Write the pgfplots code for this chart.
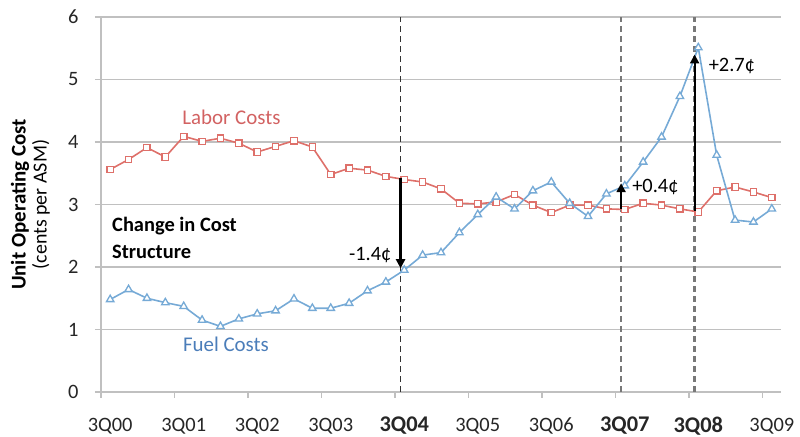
\documentclass[border=0pt]{standalone}
\usepackage{fontspec}
\setmainfont{Carlito}
\usepackage{pgfplots}
\pgfplotsset{compat=1.18}
\usetikzlibrary{arrows.meta}

\definecolor{laborc}{RGB}{222,112,106}
\definecolor{fuelc}{RGB}{118,170,214}
\definecolor{labort}{RGB}{210,98,98}
\definecolor{fuelt}{RGB}{75,125,185}
\definecolor{gridc}{RGB}{192,192,192}
\definecolor{dashc}{RGB}{120,120,120}

\newcommand{\fs}[1]{\fontsize{#1}{#1}\selectfont}

\begin{document}
\begin{tikzpicture}
\begin{axis}[
  name=ax,
  scale only axis, width=680bp, height=375bp,
  xmin=-0.5, xmax=36.5, ymin=0, ymax=6,
  ytick={0,...,6},
  xtick={-0.5,3.5,...,35.5},
  xticklabels={3Q00,3Q01,3Q02,3Q03,{\bfseries\fs{22.5}3Q04},3Q05,3Q06,{\bfseries\fs{22.5}3Q07},{\bfseries\fs{22.5}3Q08},3Q09},
  xticklabel style={xshift=9.19bp, yshift=-28bp, anchor=center},
  yticklabel style={xshift=-13bp, anchor=east},
  tick label style={font=\fs{20.5}, text=black!85},
  /pgf/number format/assume math mode=true,
  axis x line*=bottom, axis y line*=left,
  axis line style={gridc, line width=1.5bp, -},
  tick align=outside, major tick length=6bp,
  tick style={gridc, line width=1.5bp},
  ymajorgrids, major grid style={gridc, line width=1.5bp},
  clip mode=individual,
]
% vertical dashed reference lines
\draw[black!80, line width=1.3bp, dash pattern=on 6bp off 4bp] (axis cs:15.8,0) -- (axis cs:15.8,6);
\draw[dashc, line width=2.5bp, dash pattern=on 6bp off 4bp] (axis cs:27.8,0) -- (axis cs:27.8,6);
\draw[dashc, line width=2.5bp, dash pattern=on 6bp off 4bp] (axis cs:31.8,0) -- (axis cs:31.8,6);

% Labor costs
\addplot[laborc, line width=1.6bp, mark=square*, mark size=3.2bp, mark options={fill=white, line width=1.3bp}] coordinates {
(0,3.56) (1,3.72) (2,3.91) (3,3.76) (4,4.09) (5,4.01) (6,4.06) (7,3.98) (8,3.84) (9,3.93)
(10,4.02) (11,3.92) (12,3.48) (13,3.58) (14,3.55) (15,3.45) (16,3.40) (17,3.36) (18,3.25) (19,3.02)
(20,3.01) (21,3.04) (22,3.16) (23,2.99) (24,2.87) (25,2.99) (26,2.99) (27,2.93) (28,2.92) (29,3.02)
(30,2.99) (31,2.93) (32,2.88) (33,3.22) (34,3.28) (35,3.20) (36,3.11)};

% Fuel costs
\addplot[fuelc, line width=1.6bp, mark=triangle*, mark size=4.3bp, mark options={fill=white, line width=1.3bp}] coordinates {
(0,1.48) (1,1.64) (2,1.50) (3,1.43) (4,1.37) (5,1.15) (6,1.05) (7,1.17) (8,1.25) (9,1.30)
(10,1.49) (11,1.34) (12,1.34) (13,1.42) (14,1.62) (15,1.76) (16,1.95) (17,2.19) (18,2.23) (19,2.55)
(20,2.84) (21,3.12) (22,2.93) (23,3.22) (24,3.36) (25,3.02) (26,2.81) (27,3.17) (28,3.30) (29,3.68)
(30,4.08) (31,4.73) (32,5.51) (33,3.79) (34,2.75) (35,2.72) (36,2.93)};

% change arrows
\draw[black, line width=2.2bp, -{Triangle[width=9bp,length=9bp]}] (axis cs:15.8,3.42) -- (axis cs:15.8,1.98);
\draw[black, line width=2.2bp, -{Triangle[width=9bp,length=9bp]}] (axis cs:27.8,2.92) -- (axis cs:27.8,3.34);
\draw[black, line width=2.2bp, -{Triangle[width=9bp,length=9bp]}] (axis cs:31.8,2.89) -- (axis cs:31.8,5.40);

\node[anchor=east, font=\fs{20.5}, inner sep=0pt] at ([xshift=-9bp]axis cs:15.8,2.19) {-1.4¢};
\node[anchor=west, font=\fs{20.5}, inner sep=0pt] at ([xshift=11bp]axis cs:27.8,3.28) {+0.4¢};
\node[anchor=west, font=\fs{20.5}, inner sep=0pt] at ([xshift=14bp]axis cs:31.8,5.22) {+2.7¢};

% series labels
\node[labort, font=\fs{21}] at (axis cs:6.6,4.39) {Labor Costs};
\node[fuelt, font=\fs{21}] at (axis cs:6.3,0.76) {Fuel Costs};
\node[anchor=west, font=\bfseries\fs{20.5}, inner sep=0pt] at (axis cs:0.1,2.65) {Change in Cost};
\node[anchor=west, font=\bfseries\fs{20.5}, inner sep=0pt] at (axis cs:0.1,2.24) {Structure};

% y axis label
\node[rotate=90, font=\bfseries\fs{21}, inner sep=0pt] at ([xshift=-81bp]axis cs:-0.5,3) {Unit Operating Cost};
\node[rotate=90, font=\fs{20}, inner sep=0pt] at ([xshift=-60bp]axis cs:-0.5,3) {(cents per ASM)};
\end{axis}
\pgfresetboundingbox
\path[use as bounding box] ([xshift=-101bp,yshift=-45bp]ax.south west) rectangle ([xshift=19bp,yshift=17bp]ax.north east);
\end{tikzpicture}
\end{document}
